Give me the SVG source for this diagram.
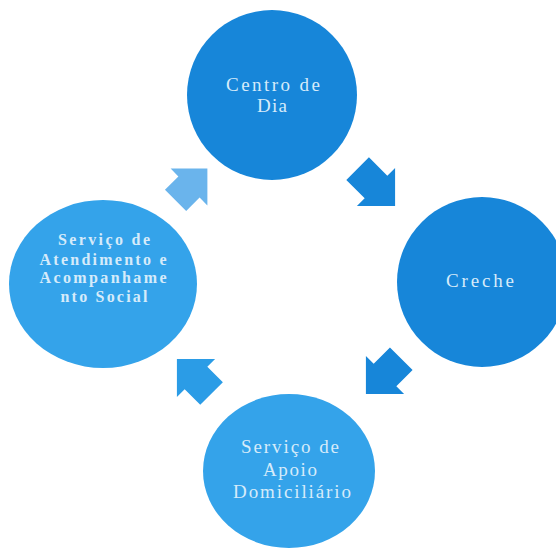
<svg xmlns="http://www.w3.org/2000/svg" xmlns:xlink="http://www.w3.org/1999/xlink" width="556" height="552" viewBox="0 0 556 552">
<defs>
<style>
.lbl{font-family:"Liberation Serif","Times New Roman",serif;font-size:19px;fill:#d6ebfa;text-anchor:middle}
.lblb{font-family:"Liberation Serif","Times New Roman",serif;font-size:16px;font-weight:bold;fill:#d6ebfa;text-anchor:middle}
.dark{fill:#1786d9}
.light{fill:#34a3ea}
</style>
</defs>
<rect width="556" height="552" fill="#ffffff"/>
<g id="connectors">
<polygon transform="translate(376,187) rotate(45)" points="-26,-16 0,-16 0,-27 27,0 0,27 0,16 -26,16" fill="#1786d9"/>
<polygon transform="translate(385,375) rotate(135)" points="-23,-16 0,-16 0,-27 27,0 0,27 0,16 -23,16" fill="#1786d9"/>
<polygon transform="translate(196,378) rotate(225)" points="-22,-16 0,-16 0,-27 27,0 0,27 0,16 -22,16" fill="#2b9ce6"/>
<polygon transform="translate(189,187) rotate(315)" points="-19,-15 0,-15 0,-26 26,0 0,26 0,15 -19,15" fill="#6ab4ec"/>
</g>
<g id="node-centro">
<circle class="dark" cx="272" cy="95" r="85"/>
<text class="lbl" x="273" y="91" textLength="94" lengthAdjust="spacing">Centro de</text>
<text class="lbl" x="272" y="112" textLength="30" lengthAdjust="spacing">Dia</text>
</g>
<g id="node-creche">
<circle class="dark" cx="482" cy="282" r="85"/>
<text class="lbl" x="480" y="287" textLength="68" lengthAdjust="spacing">Creche</text>
</g>
<g id="node-apoio">
<ellipse class="light" cx="289" cy="471" rx="86" ry="77"/>
<text class="lbl" x="290" y="453" textLength="98" lengthAdjust="spacing">Serviço de</text>
<text class="lbl" x="290" y="476" textLength="54" lengthAdjust="spacing">Apoio</text>
<text class="lbl" x="292" y="498" textLength="118" lengthAdjust="spacing">Domiciliário</text>
</g>
<g id="node-social">
<ellipse class="light" cx="103" cy="284" rx="94" ry="84"/>
<text class="lblb" x="104" y="245" textLength="92" lengthAdjust="spacing">Serviço de</text>
<text class="lblb" x="103" y="265" textLength="127" lengthAdjust="spacing">Atendimento e</text>
<text class="lblb" x="103" y="283" textLength="127" lengthAdjust="spacing">Acompanhame</text>
<text class="lblb" x="104" y="302" textLength="87" lengthAdjust="spacing">nto Social</text>
</g>
</svg>
